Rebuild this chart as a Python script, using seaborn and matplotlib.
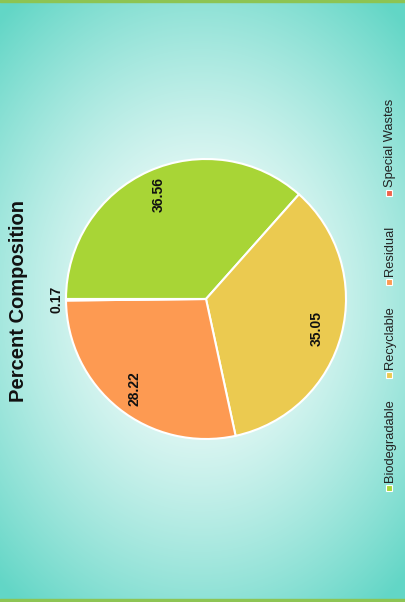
import numpy as np
import seaborn as sns
import matplotlib.pyplot as plt
from matplotlib.patches import Rectangle

categories = ['Biodegradable', 'Recyclable', 'Residual', 'Special Wastes']
values = [36.56, 35.05, 28.22, 0.17]
colors = ['#a8d536', '#ebca50', '#fd9a52', '#f0634b']
title = 'Percent Composition'

sns.set_theme(style='white')
plt.rcParams['font.family'] = ['Liberation Sans', 'DejaVu Sans']

W, H = 406, 602
fig = plt.figure(figsize=(W / 100, H / 100), dpi=100)

# background: radial gradient white -> teal
bg = fig.add_axes([0, 0, 1, 1], zorder=0)
yy, xx = np.mgrid[0:H, 0:W]
r = np.sqrt(((xx - 200) / 300.0) ** 2 + ((yy - 300) / 380.0) ** 2)
t = np.clip(r, 0, 1) ** 1.4
white = np.array([1.0, 1.0, 1.0])
teal = np.array([0x62, 0xd6, 0xc6]) / 255
img = white[None, None, :] * (1 - t[..., None]) + teal[None, None, :] * t[..., None]
bg.imshow(img, aspect='auto', extent=[0, W, H, 0])
bg.fill_between([0, W], 0, 2, color='#8dc453')
bg.fill_between([0, W], H - 3, H, color='#8dc453')
bg.set_xlim(0, W)
bg.set_ylim(H, 0)
bg.axis('off')

# pie
cx, cy, R = 206, 299, 140
ax = fig.add_axes([(cx - R) / W, (H - cy - R) / H, 2 * R / W, 2 * R / H], zorder=1)
ax.set_facecolor('none')
wedges, _ = ax.pie(values, colors=sns.color_palette(colors), startangle=180,
                   counterclock=False, radius=1,
                   wedgeprops=dict(edgecolor='white', linewidth=1.5))
for w, v in zip(wedges, values):
    mid = np.deg2rad((w.theta1 + w.theta2) / 2)
    d = 0.82 if v > 5 else 1.07
    ax.text(d * np.cos(mid), d * np.sin(mid), f'{v:.2f}', rotation=90,
            ha='center', va='center', fontsize=10, fontweight='bold', color='#111111')
ax.set_xlim(-1, 1)
ax.set_ylim(-1, 1)
ax.axis('off')

# title
fig.text(19 / W, 1 - 301 / H, title, rotation=90, ha='center', va='center',
         fontsize=14.5, fontweight='bold', color='#111111')

# legend (rotated)
sq_y = [488, 375, 282, 193]
for name, c, y in zip(categories, colors, sq_y):
    fig.patches.append(Rectangle(((389 - 3) / W, 1 - (y + 3) / H), 6 / W, 6 / H,
                                 transform=fig.transFigure, facecolor=c,
                                 edgecolor='white', linewidth=0.8, zorder=3))
    fig.text(390 / W, 1 - (y - 6) / H, name, rotation=90, ha='center', va='bottom',
             fontsize=9.3, color='#222222')

fig.savefig('out.png', dpi=100)
